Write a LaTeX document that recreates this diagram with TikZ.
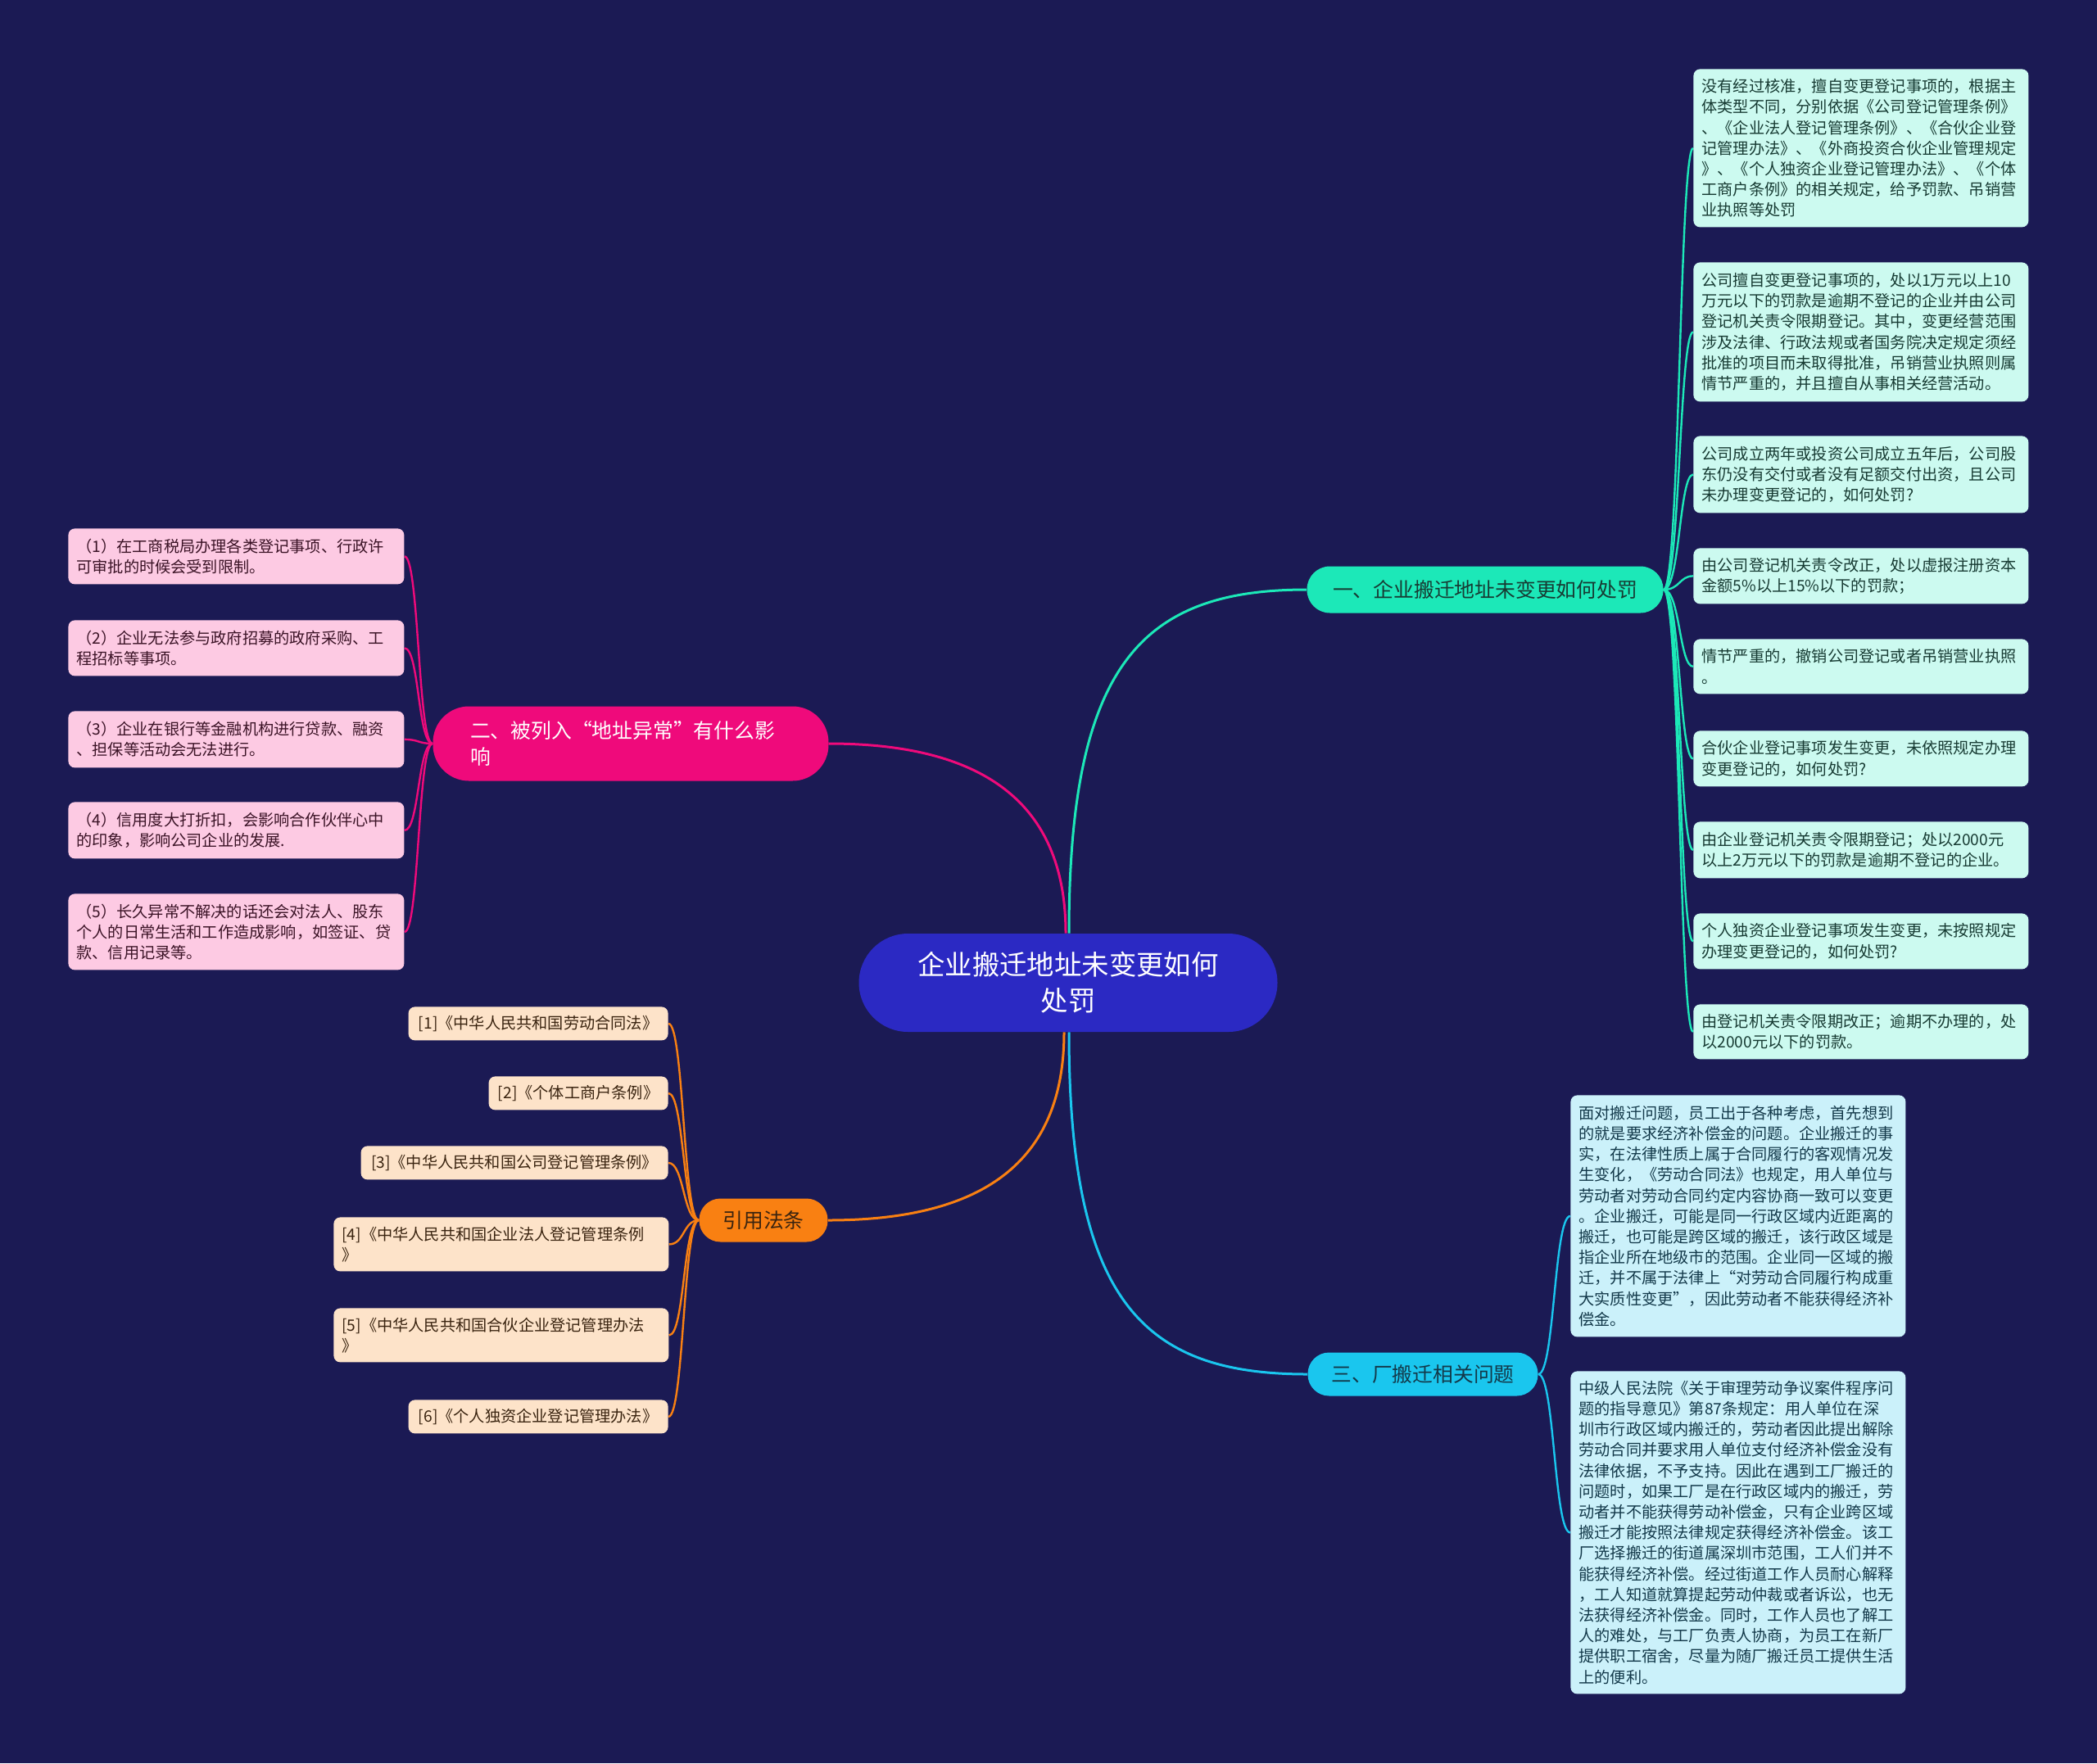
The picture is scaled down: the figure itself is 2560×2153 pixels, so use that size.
\documentclass[tikz,border=0pt]{standalone}
\usepackage{fontspec}
\newfontfamily\cjk{Noto Sans CJK SC}
\usetikzlibrary{backgrounds}
\definecolor{bgc}{HTML}{1B1A54}
\definecolor{rootc}{HTML}{2B29C3}
\definecolor{c1}{HTML}{1CE8B8}
\definecolor{c2}{HTML}{EF0A7B}
\definecolor{c3}{HTML}{F98012}
\definecolor{c4}{HTML}{1AC6EE}
\definecolor{f1}{HTML}{CCFAF0}
\definecolor{f2}{HTML}{FDCAE3}
\definecolor{f3}{HTML}{FDE3C9}
\definecolor{f4}{HTML}{CBF1FA}
\definecolor{t1}{HTML}{173B33}
\definecolor{t2}{HTML}{3B1326}
\definecolor{t3}{HTML}{3A2410}
\definecolor{t4}{HTML}{13394A}
\begin{document}
\begin{tikzpicture}[x=0.5pt,y=-0.5pt,
  rootn/.style={fill=rootc, text=white, minimum width=255.5pt, minimum height=60pt, rounded corners=30pt, align=center, inner sep=0pt, font=\cjk\fontsize{16.7pt}{22pt}\selectfont},
  br/.style={inner sep=0pt, align=center, font=\cjk\fontsize{12.4pt}{16pt}\selectfont},
  leafbox/.style={anchor=north west, rounded corners=4pt, inner xsep=5pt, inner ysep=0pt, align=left, text width=194.5pt, font=\cjk\fontsize{9.6pt}{12.6pt}\selectfont},
  lawbox/.style={anchor=north east, rounded corners=4pt, inner sep=0pt, align=center, fill=f3, text=t3, font=\cjk\fontsize{9.6pt}{12.6pt}\selectfont},
  lk1/.style={draw=c1, line width=1.2pt},
  lk2/.style={draw=c2, line width=1.2pt},
  lk3/.style={draw=c3, line width=1.2pt},
  lk4/.style={draw=c4, line width=1.2pt},
  mk1/.style={draw=c1, line width=1.5pt},
  mk2/.style={draw=c2, line width=1.5pt},
  mk3/.style={draw=c3, line width=1.5pt},
  mk4/.style={draw=c4, line width=1.5pt}]
\useasboundingbox (0,0) rectangle (2560,2153);

% root
\node[rootn] (root) at (1304,1200) {企业搬迁地址未变更如何\\处罚};

% branches
\node[br, fill=c1, text=t1, minimum width=217.5pt, minimum height=28.5pt, rounded corners=14pt] (b1) at (1813,720) {一、企业搬迁地址未变更如何处罚};
\node[br, fill=c2, text=white, minimum width=241.5pt, minimum height=45.5pt, rounded corners=22pt, align=left, text width=196pt] (b2) at (770,908) {二、被列入“地址异常”有什么影\\响};
\node[br, fill=c3, text=t3, minimum width=78.5pt, minimum height=26.5pt, rounded corners=13pt] (b3) at (932,1490) {引用法条};
\node[br, fill=c4, text=t4, minimum width=140.5pt, minimum height=26.5pt, rounded corners=13pt] (b4) at (1737,1678) {三、厂搬迁相关问题};

% branch 1 leaves
\node[leafbox, fill=f1, text=t1, minimum height=96.5pt] (L1) at (2067,84) {没有经过核准，擅自变更登记事项的，根据主\\体类型不同，分别依据《公司登记管理条例》\\、《企业法人登记管理条例》、《合伙企业登\\记管理办法》、《外商投资合伙企业管理规定\\》、《个人独资企业登记管理办法》、《个体\\工商户条例》的相关规定，给予罚款、吊销营\\业执照等处罚};
\node[leafbox, fill=f1, text=t1, minimum height=85pt] (L2) at (2067,320) {公司擅自变更登记事项的，处以1万元以上10\\万元以下的罚款是逾期不登记的企业并由公司\\登记机关责令限期登记。其中，变更经营范围\\涉及法律、行政法规或者国务院决定规定须经\\批准的项目而未取得批准，吊销营业执照则属\\情节严重的，并且擅自从事相关经营活动。};
\node[leafbox, fill=f1, text=t1, minimum height=47pt] (L3) at (2067,532) {公司成立两年或投资公司成立五年后，公司股\\东仍没有交付或者没有足额交付出资，且公司\\未办理变更登记的，如何处罚?};
\node[leafbox, fill=f1, text=t1, minimum height=34pt] (L4) at (2067,669) {由公司登记机关责令改正，处以虚报注册资本\\金额5\%以上15\%以下的罚款；};
\node[leafbox, fill=f1, text=t1, minimum height=33.5pt] (L5) at (2067,780) {情节严重的，撤销公司登记或者吊销营业执照\\。};
\node[leafbox, fill=f1, text=t1, minimum height=34pt] (L6) at (2067,892) {合伙企业登记事项发生变更，未依照规定办理\\变更登记的，如何处罚?};
\node[leafbox, fill=f1, text=t1, minimum height=34.5pt] (L7) at (2067,1003) {由企业登记机关责令限期登记；处以2000元\\以上2万元以下的罚款是逾期不登记的企业。};
\node[leafbox, fill=f1, text=t1, minimum height=34pt] (L8) at (2067,1115) {个人独资企业登记事项发生变更，未按照规定\\办理变更登记的，如何处罚?};
\node[leafbox, fill=f1, text=t1, minimum height=33.5pt] (L9) at (2067,1226) {由登记机关责令限期改正；逾期不办理的，处\\以2000元以下的罚款。};

% branch 4 leaves
\node[leafbox, fill=f4, text=t4, minimum height=147.5pt] (M1) at (1917,1337) {面对搬迁问题，员工出于各种考虑，首先想到\\的就是要求经济补偿金的问题。企业搬迁的事\\实，在法律性质上属于合同履行的客观情况发\\生变化，《劳动合同法》也规定，用人单位与\\劳动者对劳动合同约定内容协商一致可以变更\\。企业搬迁，可能是同一行政区域内近距离的\\搬迁，也可能是跨区域的搬迁，该行政区域是\\指企业所在地级市的范围。企业同一区域的搬\\迁，并不属于法律上“对劳动合同履行构成重\\大实质性变更”，因此劳动者不能获得经济补\\偿金。};
\node[leafbox, fill=f4, text=t4, minimum height=197pt] (M2) at (1917,1674) {中级人民法院《关于审理劳动争议案件程序问\\题的指导意见》第87条规定：用人单位在深\\圳市行政区域内搬迁的，劳动者因此提出解除\\劳动合同并要求用人单位支付经济补偿金没有\\法律依据，不予支持。因此在遇到工厂搬迁的\\问题时，如果工厂是在行政区域内的搬迁，劳\\动者并不能获得劳动补偿金，只有企业跨区域\\搬迁才能按照法律规定获得经济补偿金。该工\\厂选择搬迁的街道属深圳市范围，工人们并不\\能获得经济补偿。经过街道工作人员耐心解释\\，工人知道就算提起劳动仲裁或者诉讼，也无\\法获得经济补偿金。同时，工作人员也了解工\\人的难处，与工厂负责人协商，为员工在新厂\\提供职工宿舍，尽量为随厂搬迁员工提供生活\\上的便利。};

% branch 2 leaves
\node[leafbox, fill=f2, text=t2, text width=195pt, minimum height=34pt] (P1) at (83,645) {（1）在工商税局办理各类登记事项、行政许\\可审批的时候会受到限制。};
\node[leafbox, fill=f2, text=t2, text width=195pt, minimum height=34pt] (P2) at (83,757) {（2）企业无法参与政府招募的政府采购、工\\程招标等事项。};
\node[leafbox, fill=f2, text=t2, text width=195pt, minimum height=34.5pt] (P3) at (83,868) {（3）企业在银行等金融机构进行贷款、融资\\、担保等活动会无法进行。};
\node[leafbox, fill=f2, text=t2, text width=195pt, minimum height=34.5pt] (P4) at (83,979) {（4）信用度大打折扣，会影响合作伙伴心中\\的印象，影响公司企业的发展.};
\node[leafbox, fill=f2, text=t2, text width=195pt, minimum height=46.5pt] (P5) at (83,1091) {（5）长久异常不解决的话还会对法人、股东\\个人的日常生活和工作造成影响，如签证、贷\\款、信用记录等。};

% branch 3 leaves
\node[lawbox, minimum width=158.5pt, minimum height=20.5pt] (R1) at (816,1229) {[1]《中华人民共和国劳动合同法》};
\node[lawbox, minimum width=109.5pt, minimum height=20.5pt] (R2) at (816,1314) {[2]《个体工商户条例》};
\node[lawbox, minimum width=187.5pt, minimum height=20.5pt] (R3) at (816,1399) {[3]《中华人民共和国公司登记管理条例》};
\node[leafbox, fill=f3, text=t3, minimum height=33pt] (R4) at (407,1486) {[4]《中华人民共和国企业法人登记管理条例\\》};
\node[leafbox, fill=f3, text=t3, minimum height=33pt] (R5) at (407,1597) {[5]《中华人民共和国合伙企业登记管理办法\\》};
\node[lawbox, minimum width=158.5pt, minimum height=20.5pt] (R6) at (816,1709) {[6]《个人独资企业登记管理办法》};

\begin{pgfonlayer}{background}
\fill[bgc] (0,0) rectangle (2560,2153);
% main connectors
\draw[mk1] ([xshift=0.5pt]root.north) .. controls +(0,-330) and +(-200,0) .. (b1.west);
\draw[mk2] (b2.east) .. controls +(200,0) and +(0,-150) .. ([xshift=-1.5pt]root.north);
\draw[mk3] ([xshift=-2.5pt]root.south) .. controls +(0,150) and +(200,0) .. (b3.east);
\draw[mk4] ([xshift=0.5pt]root.south) .. controls +(0,330) and +(-200,0) .. (b4.west);
% branch 1
\foreach \n in {L1,L2,L3,L4,L5,L6,L7,L8,L9}
  \draw[lk1] (b1.east) .. controls +(20,0) and +(-17,0) .. (\n.west);
% branch 4
\foreach \n in {M1,M2}
  \draw[lk4] (b4.east) .. controls +(20,0) and +(-20,0) .. (\n.west);
% branch 2
\foreach \n in {P1,P2,P3,P4,P5}
  \draw[lk2] (b2.west) .. controls +(-18,0) and +(18,0) .. (\n.east);
% branch 3
\foreach \n in {R1,R2,R3,R4,R5,R6}
  \draw[lk3] (b3.west) .. controls +(-19,0) and +(19,0) .. (\n.east);
\end{pgfonlayer}
\end{tikzpicture}
\end{document}
